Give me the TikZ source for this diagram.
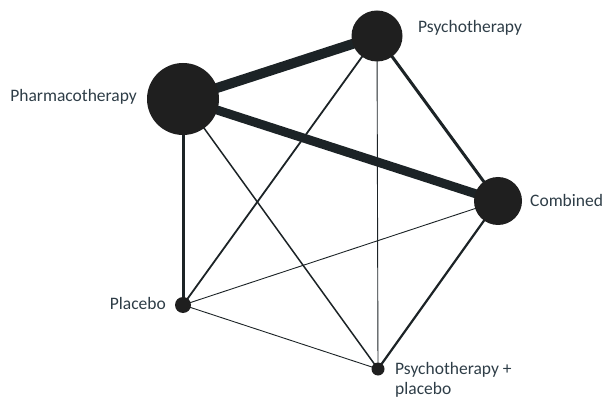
\documentclass[tikz,border=0pt]{standalone}
\usepackage{fontspec}
\setmainfont{Carlito}
\begin{document}
\begin{tikzpicture}[x=1pt,y=-1pt,
  dot/.style={circle,fill=dotc,draw=none,inner sep=0pt,minimum size=#1},
  lbl/.style={text=txtc,font=\fontsize{17.5}{20}\selectfont,inner sep=0pt},
  edge/.style={draw=linec,line width=#1}]
\definecolor{dotc}{HTML}{1F1F1F}
\definecolor{linec}{HTML}{1C2326}
\definecolor{txtc}{HTML}{2E3D47}
\useasboundingbox (0,0) rectangle (605,398);
\coordinate (ph) at (183,99);
\coordinate (ps) at (377,36);
\coordinate (co) at (498,201);
\coordinate (pl) at (183,305);
\coordinate (pp) at (378,369);
\draw[edge=10pt] (ph) -- (ps);
\draw[edge=9pt] (ph) -- (co);
\draw[edge=3pt] (ps) -- (co);
\draw[edge=3pt] (ph) -- (pl);
\draw[edge=2.2pt] (co) -- (pp);
\draw[edge=1.8pt] (ps) -- (pl);
\draw[edge=1.5pt] (ph) -- (pp);
\draw[edge=0.9pt] (ps) -- (pp);
\draw[edge=0.9pt] (co) -- (pl);
\draw[edge=0.9pt] (pl) -- (pp);
\node[dot=72pt] (nph) at (ph) {};
\node[dot=51pt] (nps) at (ps) {};
\node[dot=48pt] (nco) at (co) {};
\node[dot=16pt] (npl) at (pl) {};
\node[dot=13pt] (npp) at (pp) {};
\node[lbl,anchor=east] (tph) at (137,97) {Pharmacotherapy};
\node[lbl,anchor=west] (tps) at (418,28) {Psychotherapy};
\node[lbl,anchor=west] (tco) at (530,200) {Combined};
\node[lbl,anchor=east] (tpl) at (166,303) {Placebo};
\node[lbl,anchor=north west,align=left] (tpp) at (395,362) {Psychotherapy +\\placebo};
\end{tikzpicture}
\end{document}
